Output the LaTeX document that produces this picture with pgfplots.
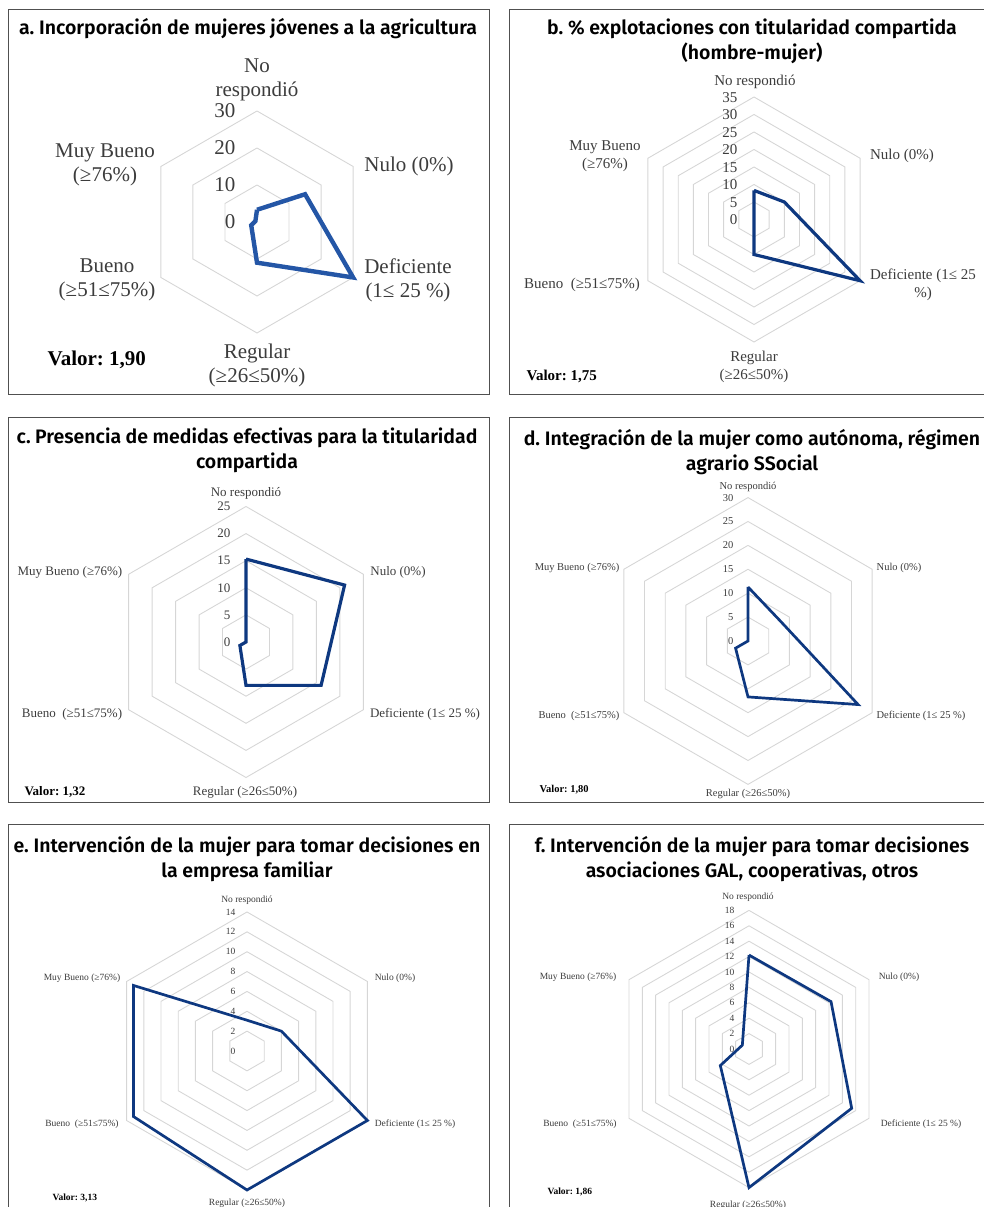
\documentclass[border=0pt]{standalone}
\usepackage{pgfplots}
\pgfplotsset{compat=1.18}
\usepackage{fontspec}
\setmainfont{Liberation Serif}
\newfontfamily\tf{Fira Sans SemiBold}
\frenchspacing

\definecolor{gridc}{RGB}{214,214,214}
\definecolor{lineA}{RGB}{36,86,166}
\definecolor{lineB}{RGB}{14,56,128}
\definecolor{framec}{RGB}{80,80,80}
\definecolor{labc}{RGB}{60,60,60}

\pgfplotsset{
  radar/.style={hide axis, clip=false, anchor=center},
}
% hexagonal grid rings, one per level
\newcommand{\rings}[1]{%
  \pgfplotsinvokeforeach{#1}{%
    \addplot[gridc, line width=0.9pt, data cs=polar] coordinates
      {(90,##1) (30,##1) (-30,##1) (-90,##1) (-150,##1) (150,##1) (90,##1)};
  }%
}
\newcommand{\ttl}{\fontsize{19.5}{25}\selectfont\tf}

\begin{document}
\begin{tikzpicture}[x=1pt, y=1pt]
\useasboundingbox (0,0) rectangle (983,1207);

% ---------- frames
\draw[framec, line width=1pt] (8,812) rectangle (489,1197);
\draw[framec, line width=1pt] (509,812) rectangle (985,1197);
\draw[framec, line width=1pt] (8,404) rectangle (489,789);
\draw[framec, line width=1pt] (509,404) rectangle (985,789);
\draw[framec, line width=1pt] (8,-3) rectangle (489,382);
\draw[framec, line width=1pt] (509,-3) rectangle (985,382);

% ---------- a
\node[font=\ttl] at (248,1178) {a. Incorporación de mujeres jóvenes a la agricultura};
\begin{axis}[radar, x=3.7pt, y=3.7pt, xmin=-30, xmax=30, ymin=-30, ymax=30, at={(257pt,985pt)}]
  \rings{10,20,30}
  \addplot[lineA, line width=4.4pt, data cs=polar] coordinates
    {(90,3.3) (30,15) (-30,30) (-90,11) (-150,1.8) (150,0.5) (90,3.3)};
\end{axis}
\begin{scope}[every node/.style={font=\fontsize{21}{24}\selectfont, text=labc, align=center}]
  \foreach \v in {0,10,20,30} \node[anchor=east] at (239,{985+3.7*\v}) {\v};
  \node at (257,1127) {No\\respondió};
  \node at (105,1042) {Muy Bueno\\(≥76\%)};
  \node at (409,1041) {Nulo (0\%)};
  \node at (408,927) {Deficiente\\(1≤ 25 \%)};
  \node at (107,927) {Bueno\\(≥51≤75\%)};
  \node at (257,842) {Regular\\(≥26≤50\%)};
  \node[anchor=west, text=black, font=\fontsize{21}{24}\selectfont\bfseries] at (44,847) {Valor: 1,90};
\end{scope}

% ---------- b
\node[font=\ttl, align=center] at (752,1166) {b. \% explotaciones con titularidad compartida\\(hombre-mujer)};
\begin{axis}[radar, x=3.5pt, y=3.5pt, xmin=-35, xmax=35, ymin=-35, ymax=35, at={(754pt,987.5pt)}]
  \rings{5,10,15,20,25,30,35}
  \addplot[lineB, line width=3.2pt, data cs=polar] coordinates
    {(90,8.3) (30,10) (-30,35) (-90,10) (-150,0) (150,0) (90,8.3)};
\end{axis}
\begin{scope}[every node/.style={font=\fontsize{15}{18}\selectfont, text=labc, align=center}]
  \foreach \v in {0,5,...,35} \node[anchor=east] at (741,{987+3.5*\v}) {\v};
  \node at (755,1125) {No respondió};
  \node at (605,1051) {Muy Bueno\\(≥76\%)};
  \node at (902,1051) {Nulo (0\%)};
  \node at (923,922) {Deficiente (1≤ 25\\\%)};
  \node at (582,922) {Bueno\ \ (≥51≤75\%)};
  \node at (754,840) {Regular\\(≥26≤50\%)};
  \node[anchor=west, text=black, font=\fontsize{15}{18}\selectfont\bfseries] at (523,831) {Valor: 1,75};
\end{scope}

% ---------- c
\node[font=\ttl, align=center] at (247,757) {\makebox[461pt][s]{c. Presencia de medidas efectivas para la titularidad}\\compartida};
\begin{axis}[radar, x=5.42pt, y=5.42pt, xmin=-25, xmax=25, ymin=-25, ymax=25, at={(246pt,565pt)}]
  \rings{5,10,15,20,25}
  \addplot[lineB, line width=3.2pt, data cs=polar] coordinates
    {(90,15.3) (30,21) (-30,16) (-90,8) (-150,1.3) (150,0) (90,15.3)};
\end{axis}
\begin{scope}[every node/.style={font=\fontsize{13}{16}\selectfont, text=labc, align=center}]
  \foreach \v in {0,5,...,25} \node[anchor=east] at (234,{565+5.42*\v}) {\v};
  \node at (246,714) {No respondió};
  \node at (70,635) {Muy Bueno (≥76\%)};
  \node at (398,635) {Nulo (0\%)};
  \node at (425,493) {Deficiente (1≤ 25 \%)};
  \node at (72,493) {Bueno\ \ (≥51≤75\%)};
  \node at (245,415) {Regular (≥26≤50\%)};
  \node[anchor=west, text=black, font=\fontsize{13}{16}\selectfont\bfseries] at (21,415) {Valor: 1,32};
\end{scope}

% ---------- d
\node[font=\ttl, align=center] at (752,755) {d. Integración de la mujer como autónoma, régimen\\agrario SSocial};
\begin{axis}[radar, x=4.78pt, y=4.78pt, xmin=-30, xmax=30, ymin=-30, ymax=30, at={(748pt,566pt)}]
  \rings{5,10,15,20,25,30}
  \addplot[lineB, line width=2.7pt, data cs=polar] coordinates
    {(90,11.3) (30,8) (-30,26.6) (-90,11.7) (-150,3) (150,0) (90,11.3)};
\end{axis}
\begin{scope}[every node/.style={font=\fontsize{10.5}{13}\selectfont, text=labc, align=center}]
  \foreach \v in {0,5,...,30} \node[anchor=east] at (737,{566+4.78*\v}) {\v};
  \node at (748,720) {No respondió};
  \node at (577,639) {Muy Bueno (≥76\%)};
  \node at (899,639) {Nulo (0\%)};
  \node at (921,491) {Deficiente (1≤ 25 \%)};
  \node at (579,491) {Bueno\ \ (≥51≤75\%)};
  \node at (748,413) {Regular (≥26≤50\%)};
  \node[anchor=west, text=black, font=\fontsize{10.5}{13}\selectfont\bfseries] at (536,417) {Valor: 1,80};
\end{scope}

% ---------- e
\node[font=\ttl, align=center] at (247,348) {\makebox[467pt][s]{e. Intervención de la mujer para tomar decisiones en}\\la empresa familiar};
\begin{axis}[radar, x=9.93pt, y=9.93pt, xmin=-14, xmax=14, ymin=-14, ymax=14, at={(247pt,156pt)}]
  \rings{2,4,...,14}
  \addplot[lineB, line width=2.7pt, data cs=polar] coordinates
    {(90,3.1) (30,4) (-30,14) (-90,14) (-150,13.2) (150,13.2) (90,3.1)};
\end{axis}
\begin{scope}[every node/.style={font=\fontsize{9.5}{12}\selectfont, text=labc, align=center}]
  \foreach \v in {0,2,...,14} \node[anchor=east] at (239,{156+9.93*\v}) {\v};
  \node at (247,307) {No respondió};
  \node at (82,229) {Muy Bueno (≥76\%)};
  \node at (395,229) {Nulo (0\%)};
  \node at (415,83) {Deficiente (1≤ 25 \%)};
  \node at (82,83) {Bueno\ \ (≥51≤75\%)};
  \node at (247,4) {Regular (≥26≤50\%)};
  \node[anchor=west, text=black, font=\fontsize{9.5}{12}\selectfont\bfseries] at (49,9) {Valor: 3,13};
\end{scope}

% ---------- f
\node[font=\ttl, align=center] at (752,348) {f. Intervención de la mujer para tomar decisiones\\asociaciones GAL, cooperativas, otros};
\begin{axis}[radar, x=7.7pt, y=7.7pt, xmin=-18, xmax=18, ymin=-18, ymax=18, at={(749pt,158pt)}]
  \rings{2,4,...,18}
  \addplot[lineB, line width=2.7pt, data cs=polar] coordinates
    {(90,12.2) (30,12.3) (-30,15.4) (-90,18) (-150,4.3) (150,1) (90,12.2)};
\end{axis}
\begin{scope}[every node/.style={font=\fontsize{9.5}{12}\selectfont, text=labc, align=center}]
  \foreach \v in {0,2,...,18} \node[anchor=east] at (738,{158+7.7*\v}) {\v};
  \node at (748,310) {No respondió};
  \node at (578,230) {Muy Bueno (≥76\%)};
  \node at (899,230) {Nulo (0\%)};
  \node at (921,83) {Deficiente (1≤ 25 \%)};
  \node at (580,83) {Bueno\ \ (≥51≤75\%)};
  \node at (748,2) {Regular (≥26≤50\%)};
  \node[anchor=west, text=black, font=\fontsize{9.5}{12}\selectfont\bfseries] at (544,15) {Valor: 1,86};
\end{scope}
\end{tikzpicture}
\end{document}
